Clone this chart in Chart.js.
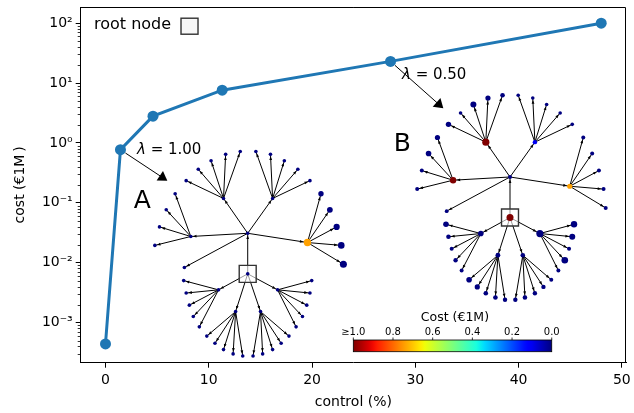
<!DOCTYPE html>
<html lang="en">
<head>
<meta charset="UTF-8">
<title>Cost vs control</title>
<script src="https://cdn.jsdelivr.net/npm/chart.js"></script>
<style>
  body { margin: 0; background: #fff; }
  .chart-box { width: 634px; height: 413px; }
</style>
</head>
<body>
<div class="chart-box"><canvas id="costChart" width="634" height="413"></canvas></div>
<script>
// main curve: cost of control
const controlPct = [0, 1.45, 4.6, 11.3, 27.6, 48];
const costM = [4.4e-4, 0.77, 2.8, 7.6, 23, 100];
const xTicks = [0, 10, 20, 30, 40, 50];
const yTickExp = [-3, -2, -1, 0, 1, 2];

// tree layout shared by both insets (offsets from the hub node, in % of panel height)
const treeParent = [1, -1, 0, 0, 0, 0, 0, 1, 1, 1, 1,
    2, 2, 2, 2, 2, 3, 3, 3, 3, 3, 4, 4, 4, 4, 5, 5, 5, 5, 5,
    7, 7, 7, 7, 7, 8, 8, 8, 8, 8, 9, 9, 9, 9, 9, 10, 10, 10, 10, 10];
const treeDx = [0, 0, -6.8, 7.0, -16.0, 16.8, -17.8, -8.2, 8.4, -3.4, 3.6,
    -17.3, -13.9, -10.3, -6.2, -2.1,
    2.3, 6.4, 10.3, 14.1, 17.5,
    -20.4, -22.9, -24.8, -26.1,
    20.6, 23.1, 25.0, 26.3, 26.9,
    -18.0, -17.3, -16.4, -15.3, -13.6,
    18.0, 17.5, 16.6, 15.4, 13.6,
    -11.5, -9.2, -6.8, -4.1, -1.4,
    1.5, 4.2, 7.0, 9.4, 11.6];
const treeDy = [0, -11.4, 9.8, 9.8, -0.9, -2.6, -9.6, -15.9, -15.9, -22.0, -22.0,
    14.8, 18.0, 20.4, 22.2, 23.0,
    23.0, 22.2, 20.4, 18.0, 14.8,
    11.1, 6.6, 1.8, -3.4,
    11.1, 6.6, 1.8, -3.4, -8.7,
    -13.3, -16.8, -20.2, -23.4, -26.3,
    -13.3, -16.8, -20.2, -23.4, -26.3,
    -28.9, -30.9, -32.7, -33.9, -34.5,
    -34.5, -33.9, -32.7, -30.9, -28.9];

// node cost (€1M) per tree
const costA = [0, 0, 0, 0, 0, 0.74, 0, 0, 0, 0, 0,
    0, 0, 0, 0, 0, 0, 0, 0, 0, 0, 0, 0, 0, 0, 0, 0, 0, 0, 0,
    0, 0, 0, 0, 0, 0, 0, 0, 0, 0, 0, 0, 0, 0, 0, 0, 0, 0, 0, 0];
const costB = [0, 1.0, 1.0, 0.1, 1.0, 0.74, 0, 0, 0, 0, 0,
    0, 0, 0, 0, 0, 0, 0, 0, 0, 0, 0, 0, 0, 0, 0, 0, 0, 0, 0,
    0, 0, 0, 0, 0, 0, 0, 0, 0, 0, 0, 0, 0, 0, 0, 0, 0, 0, 0, 0];

const colorbarTicks = [1.0, 0.8, 0.6, 0.4, 0.2, 0.0];
const colorbarLabels = ['≥1.0', '0.8', '0.6', '0.4', '0.2', '0.0'];
const lambdaLabels = ['1.00', '0.50'];
const lambdaPoint = [1, 4];

// ---- layout / style (not data) ----
const FONT = 'DejaVu Sans';
const LINE_BLUE = '#1f77b4';
const treeOriginA = [46.95, 36.38];
const treeOriginB = [120.69, 52.21];
const radiusA = [1.8, 1.8, 1.8, 1.8, 1.8, 3.7, 1.8, 1.8, 1.8, 1.8, 1.8,
    1.8, 1.8, 1.8, 1.8, 1.8, 1.8, 1.8, 1.8, 1.8, 1.8, 1.8, 1.8, 1.8, 1.8,
    2.7, 2.9, 3.1, 3.3, 3.5,
    1.8, 1.8, 1.8, 1.8, 1.8, 1.8, 1.8, 1.8, 1.8, 1.8,
    1.8, 1.8, 1.8, 1.8, 1.8, 1.8, 1.8, 1.8, 1.8, 1.8];
const radiusB = [2.0, 3.5, 3.6, 2.2, 3.2, 2.6, 1.9, 2.8, 3.6, 2.4, 2.3,
    2.7, 1.8, 3.0, 2.6, 2.3,
    1.8, 1.8, 1.8, 1.8, 1.8,
    2.6, 2.8, 2.0, 2.0,
    2.0, 2.0, 2.0, 2.0, 2.0,
    2.8, 2.3, 2.0, 2.2, 2.0,
    3.2, 3.0, 2.0, 3.3, 2.0,
    2.8, 2.6, 2.3, 2.3, 2.2,
    2.2, 2.3, 2.2, 2.2, 2.0];

function interp(t, xs, ys) {
    for (let i = 1; i < xs.length; i++) {
        if (t <= xs[i]) {
            const f = (t - xs[i - 1]) / (xs[i] - xs[i - 1]);
            return ys[i - 1] + f * (ys[i] - ys[i - 1]);
        }
    }
    return ys[ys.length - 1];
}

// matplotlib "jet"
function jet(t) {
    t = Math.max(0, Math.min(1, t));
    const r = interp(t, [0, 0.35, 0.66, 0.89, 1], [0, 0, 1, 1, 0.5]);
    const g = interp(t, [0, 0.125, 0.375, 0.64, 0.91, 1], [0, 0, 1, 1, 0, 0]);
    const b = interp(t, [0, 0.11, 0.34, 0.65, 1], [0.5, 1, 1, 0, 0]);
    return `rgb(${Math.round(r * 255)},${Math.round(g * 255)},${Math.round(b * 255)})`;
}

function treeNodes(origin) {
    return treeDx.map((dx, i) => ({ x: origin[0] + dx, y: origin[1] + treeDy[i] }));
}

function treeEdges(origin) {
    const pts = [];
    treeParent.forEach((p, i) => {
        if (p < 0) return;
        pts.push({ x: origin[0] + treeDx[p], y: origin[1] + treeDy[p] });
        pts.push({ x: origin[0] + treeDx[i], y: origin[1] + treeDy[i] });
        pts.push({ x: NaN, y: NaN });
    });
    return pts;
}

const sup = { '-': '⁻', '0': '⁰', '1': '¹', '2': '²', '3': '³', '4': '⁴' };
function powLabel(e) {
    return '10' + String(e).split('').map(c => sup[c]).join('');
}

function arrowHead(ctx, x, y, a, len, half) {
    const bx = x - len * Math.cos(a), by = y - len * Math.sin(a);
    const px = -Math.sin(a), py = Math.cos(a);
    ctx.beginPath();
    ctx.moveTo(x, y);
    ctx.lineTo(bx + half * px, by + half * py);
    ctx.lineTo(bx - half * px, by - half * py);
    ctx.closePath();
    ctx.fill();
}

function drawEdgeHeads(chart, origin, radii) {
    const ctx = chart.ctx, sx = chart.scales.ix, sy = chart.scales.iy;
    ctx.save();
    ctx.fillStyle = '#000';
    treeParent.forEach((p, i) => {
        if (p < 0) return;
        const x1 = sx.getPixelForValue(origin[0] + treeDx[p]);
        const y1 = sy.getPixelForValue(origin[1] + treeDy[p]);
        const x2 = sx.getPixelForValue(origin[0] + treeDx[i]);
        const y2 = sy.getPixelForValue(origin[1] + treeDy[i]);
        const a = Math.atan2(y2 - y1, x2 - x1);
        const r = radii[i] + 0.3;
        arrowHead(ctx, x2 - r * Math.cos(a), y2 - r * Math.sin(a), a, 3.6, 1.4);
    });
    ctx.restore();
}

const overlay = {
    id: 'overlay',
    afterDatasetDraw(chart, args) {
        const ds = chart.data.datasets[args.index];
        if (ds.edgeOrigin) drawEdgeHeads(chart, ds.edgeOrigin, ds.edgeRadii);
    },
    afterDraw(chart) {
        const ctx = chart.ctx;
        const area = chart.chartArea;
        const sx = chart.scales.ix, sy = chart.scales.iy;
        const X = v => sx.getPixelForValue(v), Y = v => sy.getPixelForValue(v);
        ctx.save();

        // top/right spines
        ctx.strokeStyle = '#000';
        ctx.lineWidth = 1;
        ctx.beginPath();
        ctx.moveTo(area.left, area.top + 0.5);
        ctx.lineTo(area.right - 0.5, area.top + 0.5);
        ctx.lineTo(area.right - 0.5, area.bottom);
        ctx.stroke();

        // minor log ticks on y
        const ys = chart.scales.y;
        ctx.beginPath();
        for (let e = -4; e <= 2; e++) {
            for (let k = 2; k <= 9; k++) {
                const v = k * Math.pow(10, e);
                if (v < ys.min || v > ys.max) continue;
                const py = Math.round(ys.getPixelForValue(v)) + 0.5;
                ctx.moveTo(area.left, py);
                ctx.lineTo(area.left - 3, py);
            }
        }
        ctx.lineWidth = 0.8;
        ctx.stroke();

        // legend: root node
        ctx.fillStyle = '#000';
        ctx.font = `16px ${FONT}`;
        ctx.textBaseline = 'middle';
        ctx.textAlign = 'left';
        ctx.fillText('root node', X(3.74), Y(94.94));
        ctx.fillStyle = 'rgba(245,245,245,0.8)';
        ctx.strokeStyle = '#333';
        ctx.lineWidth = 1.4;
        const bx = X(30.59), by = Y(94.6);
        ctx.fillRect(bx - 8.5, by - 8, 17, 16);
        ctx.strokeRect(bx - 8.5, by - 8, 17, 16);

        // lambda annotations
        const xs = chart.scales.x;
        const tips = [[24.35, 51.17], [101.94, 71.52]];
        const textPos = [[15.83, 59.8], [90.33, 80.88]];
        ctx.fillStyle = '#000';
        ctx.strokeStyle = '#000';
        ctx.lineWidth = 1;
        lambdaPoint.forEach((pi, k) => {
            const x0 = xs.getPixelForValue(controlPct[pi]);
            const y0 = ys.getPixelForValue(costM[pi]);
            const x1 = X(tips[k][0]), y1 = Y(tips[k][1]);
            const a = Math.atan2(y1 - y0, x1 - x0);
            ctx.beginPath();
            ctx.moveTo(x0 + 6 * Math.cos(a), y0 + 6 * Math.sin(a));
            ctx.lineTo(x1 - 8 * Math.cos(a), y1 - 8 * Math.sin(a));
            ctx.stroke();
            arrowHead(ctx, x1, y1, a, 9, 5.8);

            let tx = X(textPos[k][0]);
            const ty = Y(textPos[k][1]);
            ctx.font = `italic 15px ${FONT}`;
            ctx.fillText('λ', tx, ty);
            tx += ctx.measureText('λ').width;
            ctx.font = `15px ${FONT}`;
            ctx.fillText(' = ' + lambdaLabels[k], tx, ty);
        });

        // panel letters
        ctx.font = `25px ${FONT}`;
        ctx.textAlign = 'center';
        ctx.fillText('A', X(17.35), Y(45.23));
        ctx.fillText('B', X(90.4), Y(61.3));

        // colorbar
        const cx0 = X(76.64), cx1 = X(132.42), cy0 = Y(6.38), cy1 = Y(3.09);
        const grad = ctx.createLinearGradient(cx0, 0, cx1, 0);
        for (let k = 0; k <= 50; k++) grad.addColorStop(k / 50, jet(1 - k / 50));
        ctx.fillStyle = grad;
        ctx.fillRect(cx0, cy0, cx1 - cx0, cy1 - cy0);
        ctx.strokeStyle = '#000';
        ctx.lineWidth = 0.8;
        ctx.strokeRect(cx0, cy0, cx1 - cx0, cy1 - cy0);
        ctx.fillStyle = '#000';
        ctx.font = `10px ${FONT}`;
        ctx.textAlign = 'center';
        ctx.beginPath();
        colorbarTicks.forEach((v, k) => {
            const tx = cx0 + (1 - v) * (cx1 - cx0);
            ctx.moveTo(tx, cy0);
            ctx.lineTo(tx, cy0 - 2.5);
            ctx.fillText(colorbarLabels[k], tx, Y(8.43));
        });
        ctx.stroke();
        ctx.font = `12.5px ${FONT}`;
        ctx.fillText('Cost (€1M)', X(105.2), Y(12.57));

        ctx.restore();
    }
};

Chart.defaults.font.family = FONT;
Chart.defaults.font.size = 14;
Chart.defaults.color = '#000';

const ctx = document.getElementById('costChart').getContext('2d');
new Chart(ctx, {
    type: 'scatter',
    data: {
        datasets: [
            {
                label: 'cost',
                data: controlPct.map((x, i) => ({ x: x, y: costM[i] })),
                showLine: true,
                borderColor: LINE_BLUE,
                backgroundColor: LINE_BLUE,
                borderWidth: 3,
                pointRadius: 5.5,
                pointBorderWidth: 0,
                xAxisID: 'x',
                yAxisID: 'y'
            },
            {
                label: 'tree A nodes',
                data: treeNodes(treeOriginA),
                pointRadius: radiusA,
                pointBackgroundColor: costA.map(jet),
                pointBorderWidth: 0,
                xAxisID: 'ix',
                yAxisID: 'iy'
            },
            {
                label: 'tree B nodes',
                data: treeNodes(treeOriginB),
                pointRadius: radiusB,
                pointBackgroundColor: costB.map(jet),
                pointBorderWidth: 0,
                xAxisID: 'ix',
                yAxisID: 'iy'
            },
            {
                label: 'root A',
                data: [treeNodes(treeOriginA)[1]],
                pointStyle: 'rect',
                pointRadius: 12,
                pointBackgroundColor: 'rgba(255,255,255,0.6)',
                pointBorderColor: '#333',
                pointBorderWidth: 1.4,
                xAxisID: 'ix',
                yAxisID: 'iy'
            },
            {
                label: 'root B',
                data: [treeNodes(treeOriginB)[1]],
                pointStyle: 'rect',
                pointRadius: 12,
                pointBackgroundColor: 'rgba(255,255,255,0.6)',
                pointBorderColor: '#333',
                pointBorderWidth: 1.4,
                xAxisID: 'ix',
                yAxisID: 'iy'
            },
            {
                label: 'tree A edges',
                data: treeEdges(treeOriginA),
                edgeOrigin: treeOriginA,
                edgeRadii: radiusA,
                showLine: true,
                spanGaps: false,
                pointRadius: 0,
                borderColor: '#000',
                borderWidth: 1,
                xAxisID: 'ix',
                yAxisID: 'iy'
            },
            {
                label: 'tree B edges',
                data: treeEdges(treeOriginB),
                edgeOrigin: treeOriginB,
                edgeRadii: radiusB,
                showLine: true,
                spanGaps: false,
                pointRadius: 0,
                borderColor: '#000',
                borderWidth: 1,
                xAxisID: 'ix',
                yAxisID: 'iy'
            }
        ]
    },
    options: {
        responsive: false,
        animation: false,
        events: [],
        layout: { autoPadding: false, padding: { left: 0, right: 8, top: 7, bottom: 0 } },
        plugins: { legend: { display: false }, tooltip: { enabled: false } },
        scales: {
            x: {
                type: 'linear',
                min: -2.4,
                max: 50.4,
                afterBuildTicks: s => { s.ticks = xTicks.map(v => ({ value: v })); },
                ticks: { padding: 4, maxRotation: 0, color: '#000' },
                grid: { drawOnChartArea: false, tickLength: 5, tickColor: '#000', tickWidth: 1 },
                border: { color: '#000', width: 1 },
                title: { display: true, text: 'control (%)', color: '#000', padding: { top: 0, bottom: 2 } },
                afterFit: s => { s.height = 50.3; s.paddingLeft = 0; s.paddingRight = 0; }
            },
            y: {
                type: 'logarithmic',
                min: Math.pow(10, -3.67),
                max: Math.pow(10, 2.27),
                afterBuildTicks: s => { s.ticks = yTickExp.map(e => ({ value: Math.pow(10, e) })); },
                ticks: {
                    padding: 3,
                    color: '#000',
                    callback: v => powLabel(Math.round(Math.log10(v)))
                },
                grid: { drawOnChartArea: false, tickLength: 5, tickColor: '#000', tickWidth: 1 },
                border: { color: '#000', width: 1 },
                title: { display: true, text: 'cost (€1M\u2009)', color: '#000', padding: { top: 12, bottom: 0 } },
                afterFit: s => { s.width = 80.7; s.paddingTop = 0; s.paddingBottom = 0; }
            },
            ix: { type: 'linear', axis: 'x', position: 'bottom', display: false, min: 0, max: 153.3 },
            iy: { type: 'linear', axis: 'y', position: 'left', display: false, min: 0, max: 100 }
        }
    },
    plugins: [overlay]
});
</script>
</body>
</html>
